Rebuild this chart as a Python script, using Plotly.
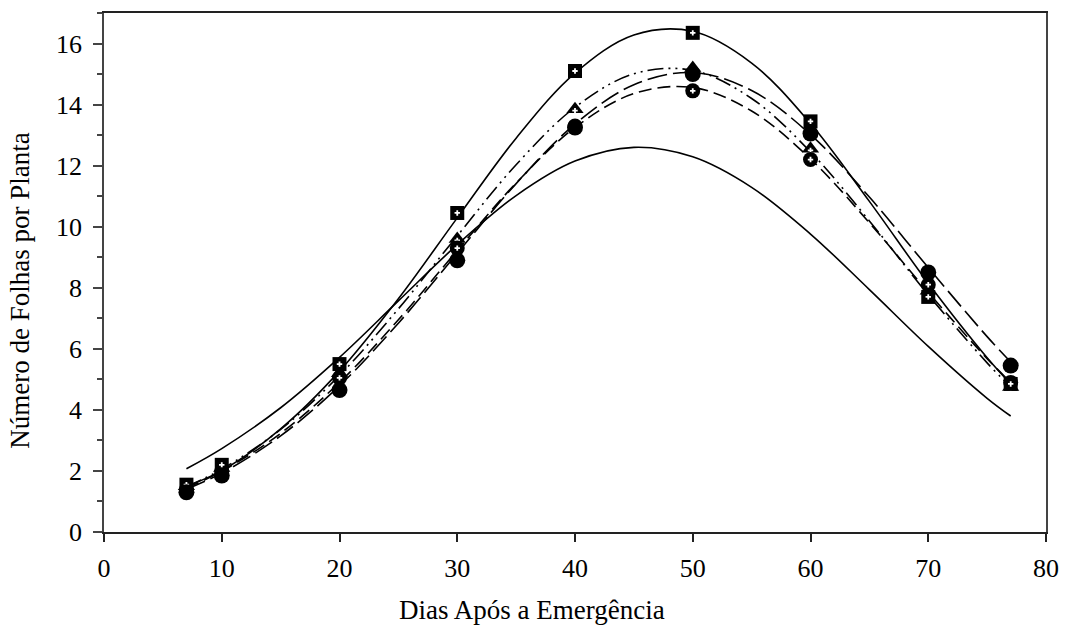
import plotly.graph_objects as go

# Observed days and measured values (markers)
dias = [7, 10, 20, 30, 40, 50, 60, 70, 77]
quadrado = [1.55, 2.2, 5.5, 10.45, 15.1, 16.35, 13.45, 7.7, 4.85]
triangulo = [1.5, 2.1, 5.2, 9.6, 13.85, 15.2, 12.55, 7.9, 4.75]
circulo_cruz = [1.4, 2.0, 5.05, 9.3, 13.3, 14.45, 12.2, 8.1, 4.9]
circulo = [1.3, 1.85, 4.65, 8.9, 13.25, 15.0, 13.05, 8.5, 5.45]

# Fitted curves, values
dias_curva = [7, 10, 15, 20, 25, 30, 35, 40, 45, 50, 55, 60, 65, 70, 75, 77]
curva_quadrado = [1.5, 2.01, 3.38, 5.27, 7.64, 10.29, 12.9, 15.03, 16.28, 16.4, 15.36, 13.38, 10.83, 8.15, 5.71, 4.85]
curva_triangulo = [1.48, 2.06, 3.36, 5.13, 7.31, 9.7, 12.03, 13.91, 15.01, 15.12, 14.2, 12.45, 10.19, 7.77, 5.54, 4.75]
curva_circulo = [1.4, 1.93, 3.15, 4.79, 6.84, 9.13, 11.41, 13.36, 14.65, 15.05, 14.46, 13.02, 10.97, 8.66, 6.4, 5.57]
curva_circulo_cruz = [1.44, 1.99, 3.23, 4.9, 6.95, 9.22, 11.43, 13.25, 14.36, 14.56, 13.79, 12.22, 10.13, 7.85, 5.68, 4.9]
curva_inferior = [2.07, 2.73, 4.07, 5.72, 7.57, 9.41, 11.02, 12.15, 12.6, 12.29, 11.29, 9.76, 7.94, 6.08, 4.38, 3.8]

FONT = "Liberation Serif"
fig = go.Figure()

def curve(y, dash):
    fig.add_trace(go.Scatter(x=dias_curva, y=y, mode="lines", line_shape="spline",
                             line=dict(color="black", width=1.6, dash=dash),
                             showlegend=False, hoverinfo="skip"))

curve(curva_inferior, "solid")
curve(curva_quadrado, "solid")
curve(curva_triangulo, "16px,5px,2px,5px,2px,5px")
curve(curva_circulo, "20px,6px")
curve(curva_circulo_cruz, "13px,6px")

def markers(y, symbol, size, cross=True, cross_dy=0):
    fig.add_trace(go.Scatter(x=dias, y=y, mode="markers",
                             marker=dict(symbol=symbol, size=size, color="black",
                                         line=dict(width=0)),
                             showlegend=False))
    if cross:
        fig.add_trace(go.Scatter(x=dias, y=[v + cross_dy for v in y], mode="markers",
                                 marker=dict(symbol="cross", size=4.5, color="white",
                                             line=dict(width=0)),
                                 showlegend=False, hoverinfo="skip"))

markers(triangulo, "triangle-up", 15, cross_dy=-0.05)
markers(circulo_cruz, "circle", 15)
markers(quadrado, "square", 14)
markers(circulo, "circle", 16, cross=False)

fig.update_layout(
    width=1072, height=637,
    margin=dict(l=104, r=26, t=11, b=105),
    paper_bgcolor="white", plot_bgcolor="white",
    font=dict(family=FONT, size=26, color="black"),
    xaxis=dict(range=[0, 80], tickvals=[0, 10, 20, 30, 40, 50, 60, 70, 80],
               showgrid=False, zeroline=False, showline=True, linecolor="#222",
               linewidth=1.5, mirror=True, ticks="outside", ticklen=8, tickwidth=1.5,
               tickcolor="#222", ticklabelstandoff=4,
               tickfont=dict(family=FONT, size=26)),
    yaxis=dict(range=[0, 17], tickvals=[0, 2, 4, 6, 8, 10, 12, 14, 16],
               showgrid=False, zeroline=False, showline=True, linecolor="#444",
               linewidth=1.5, mirror=True, ticks="outside", ticklen=9, tickwidth=1.5,
               tickcolor="#444", ticklabelstandoff=6,
               tickfont=dict(family=FONT, size=26),
               minor=dict(tickvals=[1, 3, 5, 7, 9, 11, 13, 15, 17], ticks="outside",
                          ticklen=5, tickwidth=1.5, tickcolor="#444")),
    annotations=[
        dict(text="Dias Após a Emergência", xref="paper", yref="paper",
             x=0.454, y=-0.15, xanchor="center", yanchor="middle", showarrow=False,
             font=dict(family=FONT, size=27)),
        dict(text="Número de Folhas por Planta", xref="paper", yref="paper",
             x=-0.089, y=0.465, xanchor="center", yanchor="middle", showarrow=False,
             textangle=-90, font=dict(family=FONT, size=27)),
    ],
)

fig.write_html("out.html")
